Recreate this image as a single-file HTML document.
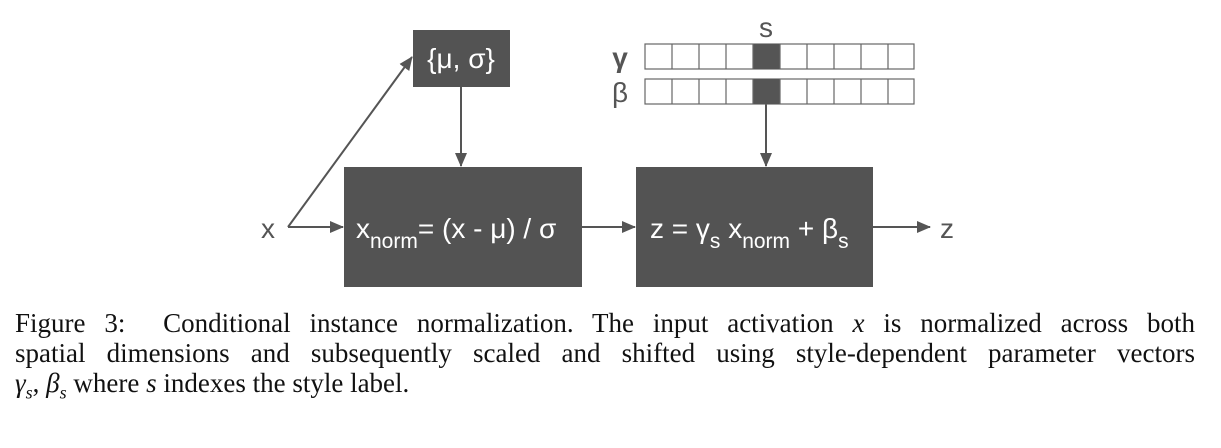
<!DOCTYPE html>
<html><head><meta charset="utf-8"><style>
html,body{margin:0;padding:0;background:#fff;width:1221px;height:448px;overflow:hidden}
.cap{position:absolute;left:15px;width:1180px;font-family:"Liberation Serif",serif;font-size:27px;line-height:30px;color:#111;white-space:nowrap}
.j{text-align:justify;text-align-last:justify;white-space:normal}
svg{position:absolute;left:0;top:0}
</style></head><body>
<svg width="1221" height="300" font-family="Liberation Sans, sans-serif">
<defs><marker id="b" markerWidth="14" markerHeight="12" refX="13" refY="6" orient="auto" markerUnits="userSpaceOnUse"><path d="M0,0 L14,6 L0,12 z" fill="#555"/></marker></defs>
<g fill="#535353">
<rect x="413" y="30" width="97" height="57"/>
<rect x="344" y="167" width="238" height="120"/>
<rect x="636" y="167" width="237" height="120"/>
</g>
<g stroke="#555" stroke-width="2" fill="none">
<line x1="288" y1="227" x2="343" y2="227" marker-end="url(#b)"/>
<line x1="288" y1="227" x2="412" y2="57" marker-end="url(#b)"/>
<line x1="461" y1="87" x2="461" y2="166" marker-end="url(#b)"/>
<line x1="582" y1="227" x2="635" y2="227" marker-end="url(#b)"/>
<line x1="766" y1="104" x2="766" y2="166" marker-end="url(#b)"/>
<line x1="873" y1="227" x2="930" y2="227" marker-end="url(#b)"/>
</g>
<g stroke="#666" stroke-width="1.2" fill="#fff">
<rect x="645" y="44" width="269" height="25"/>
<rect x="645" y="79" width="269" height="25"/>
</g>
<g fill="#555"><rect x="753" y="44" width="27" height="25"/><rect x="753" y="79" width="27" height="25"/></g>
<g stroke="#666" stroke-width="1.2">
<path d="M672,44V69M699,44V69M726,44V69M753,44V69M780,44V69M807,44V69M834,44V69M861,44V69M888,44V69"/>
<path d="M672,79V104M699,79V104M726,79V104M753,79V104M780,79V104M807,79V104M834,79V104M861,79V104M888,79V104"/>
</g>
<g fill="#fff" font-size="28">
<text x="461" y="68" text-anchor="middle">{μ, σ}</text>
<text x="356" y="238">x<tspan font-size="21" dy="10">norm</tspan><tspan dy="-10">= (x - μ) / σ</tspan></text>
<text x="650" y="238">z = γ<tspan font-size="21" dy="10">s</tspan><tspan dy="-10"> x</tspan><tspan font-size="21" dy="10">norm</tspan><tspan dy="-10"> + β</tspan><tspan font-size="21" dy="10">s</tspan></text>
</g>
<g fill="#555" font-size="28">
<text x="268" y="238" text-anchor="middle">x</text>
<text x="947" y="238" text-anchor="middle">z</text>
<text x="766" y="37" text-anchor="middle">s</text>
<text x="620" y="67" text-anchor="middle" font-weight="bold">γ</text>
<text x="620" y="102" text-anchor="middle">β</text>
</g>
</svg>
<div class="cap j" style="top:308px">Figure 3: &nbsp;Conditional instance normalization. The input activation <i>x</i> is normalized across both</div>
<div class="cap j" style="top:338px">spatial dimensions and subsequently scaled and shifted using style-dependent parameter vectors</div>
<div class="cap" style="top:368px"><i>γ<sub style="font-size:18px">s</sub></i>, <i>β<sub style="font-size:18px">s</sub></i> where <i>s</i> indexes the style label.</div>
</body></html>
